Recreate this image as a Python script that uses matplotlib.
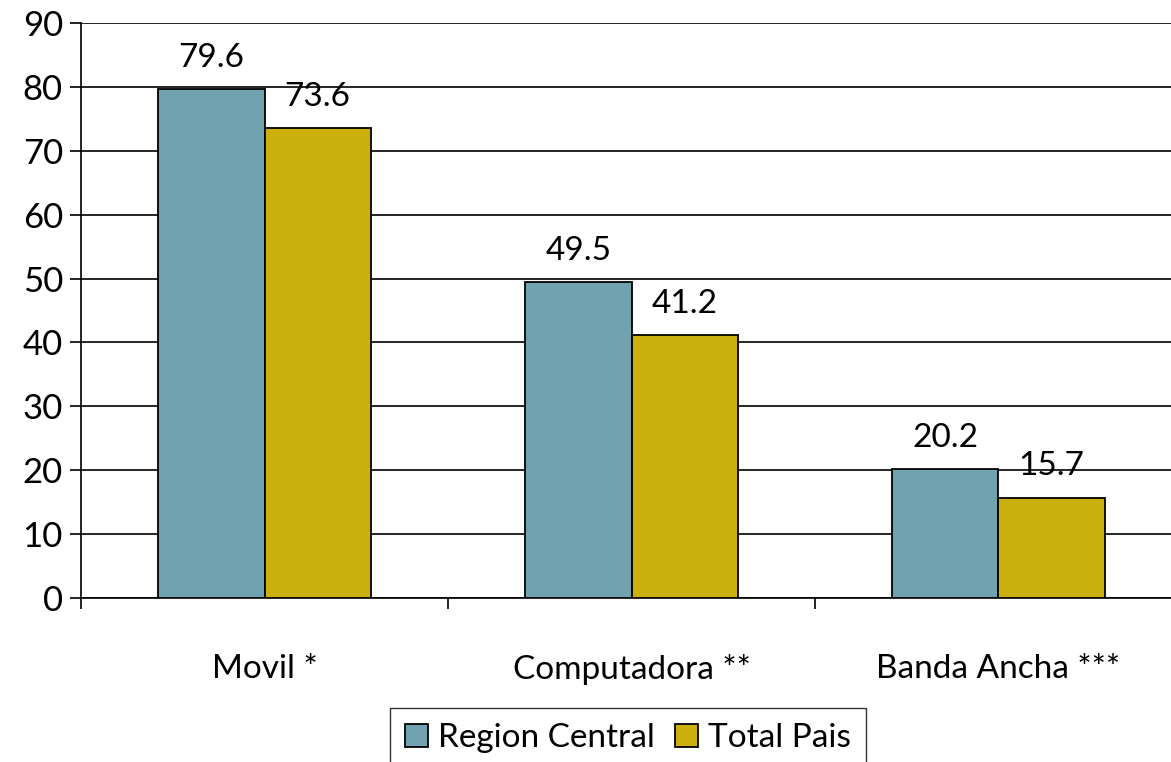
import matplotlib
matplotlib.use("Agg")
import matplotlib.pyplot as plt
import numpy as np

# datos
categorias = ["Movil *", "Computadora **", "Banda Ancha ***"]
region_central = [79.6, 49.5, 20.2]
total_pais = [73.6, 41.2, 15.7]
series = ["Region Central", "Total Pais"]
colores = ["#71A2B0", "#CBAF0C"]

plt.rcParams["font.family"] = ["Lato", "DejaVu Sans"]
fs = 24

fig = plt.figure(figsize=(11.71, 7.62), dpi=100)
ax = fig.add_axes([81 / 1171, 164 / 762, 1101 / 1171, 575 / 762])

x = np.arange(len(categorias))
w = 0.289
for i, (vals, nombre, c) in enumerate(zip([region_central, total_pais], series, colores)):
    pos = x + (i - 0.5) * w
    ax.bar(pos, vals, width=w, color=c, edgecolor="black", linewidth=1.3,
           label=nombre, zorder=3)
    for px, v in zip(pos, vals):
        ax.annotate(f"{v:.1f}", (px, v), xytext=(0, 16), textcoords="offset points",
                    ha="center", va="baseline", fontsize=fs, zorder=4)

ax.set_xlim(-0.5, 2.5)
ax.set_ylim(0, 90)
ax.set_yticks(range(0, 91, 10))
ax.yaxis.grid(True, color="black", linewidth=1.2, zorder=0)
ax.set_axisbelow(True)

ax.set_xticks(x)
ax.set_xticklabels(categorias)
ax.set_xticks([-0.5, 0.5, 1.5], minor=True)
ax.tick_params(axis="x", which="major", length=0, pad=40, labelsize=fs)
ax.tick_params(axis="x", which="minor", length=8, width=1.2, direction="out")
ax.tick_params(axis="y", length=8, width=1.2, labelsize=25, pad=5)

for s in ["top", "right"]:
    ax.spines[s].set_visible(False)
ax.spines["left"].set_linewidth(1.2)
ax.spines["bottom"].set_linewidth(1.2)

# la leyenda queda cortada abajo como en el original
leg = fig.legend(loc="upper center", bbox_to_anchor=(628 / 1171, 1 - 708 / 762),
                 ncol=2, fontsize=fs, frameon=True, fancybox=False,
                 handlelength=0.7, handleheight=0.7, handletextpad=0.3,
                 columnspacing=0.6, borderpad=0.45, borderaxespad=0)
leg.get_frame().set_edgecolor("black")
leg.get_frame().set_linewidth(1.0)

fig.savefig("out.png", dpi=100)
